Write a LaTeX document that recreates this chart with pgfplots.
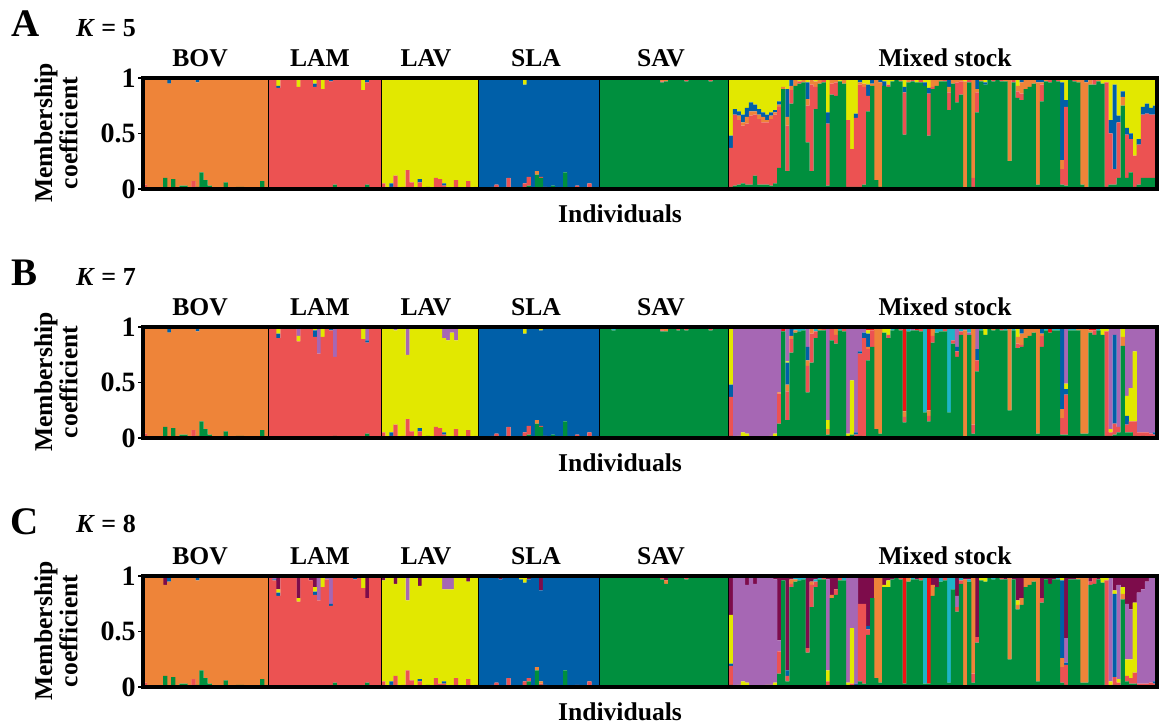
\documentclass[border=0pt]{standalone}
\usepackage{fontspec}
\setmainfont{Liberation Serif}
\usepackage{pgfplots}
\usepackage{pgfplotstable}
\pgfplotsset{compat=1.18}

% cluster colours
\definecolor{cG}{HTML}{008F3E}
\definecolor{cS}{HTML}{EC5252}
\definecolor{cO}{HTML}{EE8439}
\definecolor{cB}{HTML}{005FA8}
\definecolor{cY}{HTML}{E2E800}
\definecolor{cP}{HTML}{A667B4}
\definecolor{cC}{HTML}{1EB4C8}
\definecolor{cR}{HTML}{F01414}
\definecolor{cM}{HTML}{7D0C4B}

% ---------------- K = 5 : membership per individual ----------------
% BOV (31) | LAM (28) | LAV (24) | SLA (30) | SAV (32) | Mixed stock (106)
\pgfplotstableread{
G S O B Y
0 0.04 0.96 0 0
0 0 0.99 0 0.01
0.01 0 0.99 0 0
0 0 1 0 0
0 0.01 0.99 0 0
0.10 0 0.89 0 0.01
0 0 0.95 0.04 0.01
0.09 0 0.91 0 0
0 0 0.98 0 0.02
0.03 0 0.97 0 0
0.03 0 0.97 0 0
0 0.01 0.99 0 0
0 0.07 0.93 0 0
0.02 0 0.94 0.04 0
0.15 0 0.85 0 0
0.08 0 0.92 0 0
0.03 0 0.97 0 0
0 0 1 0 0
0.01 0 0.99 0 0
0 0 0.99 0.01 0
0.06 0 0.94 0 0
0 0 1 0 0
0.01 0 0.99 0 0
0.02 0 0.98 0 0
0.02 0 0.98 0 0
0 0 0.99 0 0.01
0 0 1 0 0
0 0.01 0.99 0 0
0 0 1 0 0
0.07 0 0.93 0 0
0 0 0.99 0.01 0
0 0.99 0 0 0.01
0 0.98 0 0.01 0.01
0 0.91 0 0.02 0.07
0 1 0 0 0
0 0.99 0.01 0 0
0 1 0 0 0
0 0.99 0 0 0.01
0 0.92 0 0 0.08
0 0.99 0 0.01 0
0 1 0 0 0
0.01 0.98 0 0 0.01
0 0.92 0 0.03 0.05
0.01 0.97 0 0 0.02
0 0.90 0 0 0.10
0 0.99 0 0 0.01
0 0.97 0 0.02 0.01
0.04 0.95 0 0 0.01
0 1 0 0 0
0 0.99 0.01 0 0
0 1 0 0 0
0 0.99 0 0 0.01
0 0.98 0 0.01 0.01
0 0.99 0 0 0.01
0 0.89 0 0 0.11
0.04 0.92 0 0.02 0.02
0 0.99 0 0 0.01
0 0.98 0 0 0.02
0 1 0 0 0
0 0.05 0 0 0.95
0 0.01 0 0 0.99
0 0.02 0 0.03 0.95
0 0.12 0 0 0.88
0 0.01 0 0 0.99
0.01 0.01 0 0 0.98
0 0.17 0 0 0.83
0 0.06 0 0 0.94
0 0.01 0 0 0.99
0 0.06 0 0.03 0.91
0 0 0 0 1
0.02 0 0 0 0.98
0 0.01 0 0 0.99
0 0.10 0 0 0.90
0 0.09 0 0 0.91
0 0.03 0 0.02 0.95
0 0.01 0 0 0.99
0 0 0 0 1
0 0.08 0 0 0.92
0.01 0 0 0 0.99
0 0.01 0 0 0.99
0 0.07 0 0 0.93
0 0.01 0 0 0.99
0 0.02 0 0 0.98
0 0.01 0 0.99 0
0 0 0 0.99 0.01
0 0.01 0 0.99 0
0 0.02 0 0.98 0
0 0.04 0 0.96 0
0 0 0 1 0
0 0.01 0 0.98 0.01
0 0.10 0 0.90 0
0 0.01 0 0.99 0
0.01 0 0 0.99 0
0 0.01 0 0.97 0.02
0 0.05 0 0.89 0.06
0.03 0.08 0 0.89 0
0 0.01 0 0.99 0
0.13 0 0.03 0.84 0
0.10 0.01 0 0.88 0.01
0 0.02 0 0.96 0.02
0 0 0 1 0
0.03 0 0 0.97 0
0 0 0.01 0.98 0.01
0 0.01 0 0.99 0
0.15 0 0 0.84 0.01
0 0 0 0.99 0.01
0 0.01 0 0.99 0
0 0.03 0 0.97 0
0 0 0 0.99 0.01
0 0.01 0 0.99 0
0 0.05 0 0.95 0
0 0 0 1 0
0 0.01 0 0.99 0
0.99 0 0.01 0 0
1 0 0 0 0
0.99 0.01 0 0 0
1 0 0 0 0
0.99 0 0 0 0.01
1 0 0 0 0
0.99 0.01 0 0 0
1 0 0 0 0
0.99 0 0.01 0 0
1 0 0 0 0
1 0 0 0 0
0.99 0 0 0.01 0
1 0 0 0 0
0.99 0.01 0 0 0
1 0 0 0 0
0.96 0.01 0.03 0 0
0.97 0 0.03 0 0
0.98 0.02 0 0 0
0.99 0.01 0 0 0
0.98 0.02 0 0 0
0.99 0 0.01 0 0
0.97 0.03 0 0 0
0.99 0.01 0 0 0
0.98 0.02 0 0 0
0.99 0 0.01 0 0
0.98 0.02 0 0 0
0.99 0.01 0 0 0
0.97 0.03 0 0 0
0.99 0.01 0 0 0
0.98 0.01 0.01 0 0
0.99 0.01 0 0 0
0.98 0.02 0 0 0
0.02 0.35 0 0.11 0.52
0.03 0.64 0 0.05 0.28
0.04 0.58 0.04 0.04 0.30
0.05 0.52 0.03 0.07 0.33
0.04 0.55 0.06 0.08 0.27
0.04 0.62 0.04 0.08 0.22
0.12 0.55 0.03 0.06 0.24
0.04 0.59 0.04 0.05 0.28
0.04 0.56 0.05 0.04 0.31
0.04 0.56 0.02 0.05 0.33
0.03 0.60 0.03 0.03 0.31
0.05 0.62 0.02 0.02 0.29
0.19 0.55 0.02 0.03 0.21
0.90 0 0.02 0 0.08
0.16 0.41 0.08 0.25 0.10
0.77 0.12 0.04 0.06 0.01
0.93 0 0.05 0.02 0
0.95 0.02 0 0 0.03
0.96 0 0.02 0 0.02
0.42 0.33 0.06 0.15 0.04
0.16 0.78 0.05 0 0.01
0.72 0.20 0.05 0 0.03
0.95 0 0.05 0 0
0.96 0.04 0 0 0
0.03 0.56 0 0.10 0.31
0.85 0.10 0.03 0.02 0
0.84 0.12 0.04 0 0
0.97 0 0 0 0.03
0.95 0 0.03 0.02 0
0.02 0.60 0 0 0.38
0.02 0.34 0 0 0.64
0.02 0.62 0 0.04 0.32
0.02 0.92 0.02 0.04 0
0.04 0.88 0.03 0 0.05
0.70 0.14 0 0.10 0.06
0.93 0 0.02 0.05 0
0.08 0 0.92 0 0
0.02 0 0.94 0.04 0
0.93 0 0 0.04 0.03
0.92 0.02 0 0 0.06
0.97 0 0 0 0.03
0.98 0.01 0.01 0 0
0.97 0 0.02 0 0.01
0.49 0.38 0 0.05 0.08
0.96 0 0.02 0 0.02
0.97 0.02 0 0 0.01
0.96 0 0 0 0.04
0.96 0.02 0 0.02 0
0.93 0 0 0.03 0.04
0.48 0.38 0 0.05 0.09
0.90 0.02 0.08 0 0
0.93 0 0.05 0 0.02
0.97 0 0.02 0.01 0
0.97 0.03 0 0 0
0.71 0.16 0.05 0.08 0
0.95 0 0.03 0 0.02
0.78 0.18 0.04 0 0
0.85 0.12 0.03 0 0
0 0 0.97 0 0.03
0.96 0.02 0.02 0 0
0.02 0.08 0.88 0.02 0
0.69 0.18 0.03 0.10 0
0.97 0 0.03 0 0
0.94 0 0 0.02 0.04
0.98 0 0.02 0 0
0.97 0.03 0 0 0
0.98 0 0 0 0.02
0.97 0.01 0.02 0 0
0.97 0 0.03 0 0
0.25 0 0.73 0 0.02
0.96 0.02 0.02 0 0
0.82 0.06 0.05 0 0.07
0.80 0.06 0.10 0.03 0.01
0.90 0 0.10 0 0
0.92 0 0.08 0 0
0.95 0 0.05 0 0
0.04 0 0.92 0.04 0
0.79 0.15 0.02 0.04 0
0.97 0 0.02 0 0.01
0.96 0.04 0 0 0
0.98 0 0.02 0 0
0.97 0.01 0 0.02 0
0.04 0.14 0.08 0.70 0.04
0.03 0.71 0 0.06 0.20
0.98 0 0.02 0 0
0.97 0.03 0 0 0
0.96 0 0.04 0 0
0.04 0 0.96 0 0
0 0 0.96 0.02 0.02
0.94 0 0.06 0 0
0.94 0.06 0 0 0
0.97 0 0.02 0 0.01
0.95 0 0 0 0.05
0.02 0.94 0 0 0.04
0.04 0.46 0 0.12 0.38
0.04 0.14 0 0.76 0.06
0.10 0.50 0 0.06 0.34
0.75 0 0.08 0.05 0.12
0.10 0.39 0 0.06 0.45
0.15 0.30 0 0.05 0.50
0.02 0.28 0 0 0.70
0.04 0.36 0 0.05 0.55
0.10 0.57 0 0.07 0.26
0.10 0.58 0 0.09 0.23
0.10 0.57 0 0.06 0.27
0.10 0.57 0 0.08 0.25
}\kfive

% ---------------- K = 7 ----------------
\pgfplotstableread{
G S O B Y P C R
0 0.04 0.96 0 0 0 0 0
0 0 0.99 0 0.01 0 0 0
0.01 0 0.99 0 0 0 0 0
0 0 1 0 0 0 0 0
0 0.01 0.99 0 0 0 0 0
0.10 0 0.89 0 0.01 0 0 0
0 0 0.95 0.04 0.01 0 0 0
0.09 0 0.91 0 0 0 0 0
0 0 0.98 0 0.02 0 0 0
0.03 0 0.97 0 0 0 0 0
0.03 0 0.97 0 0 0 0 0
0 0.01 0.99 0 0 0 0 0
0 0.07 0.93 0 0 0 0 0
0.02 0 0.94 0.04 0 0 0 0
0.15 0 0.85 0 0 0 0 0
0.08 0 0.92 0 0 0 0 0
0.03 0 0.97 0 0 0 0 0
0 0 1 0 0 0 0 0
0.01 0 0.99 0 0 0 0 0
0 0 0.99 0.01 0 0 0 0
0.06 0 0.94 0 0 0 0 0
0 0 1 0 0 0 0 0
0.01 0 0.99 0 0 0 0 0
0.02 0 0.98 0 0 0 0 0
0.02 0 0.98 0 0 0 0 0
0 0 0.99 0 0.01 0 0 0
0 0 1 0 0 0 0 0
0 0.01 0.99 0 0 0 0 0
0 0 1 0 0 0 0 0
0.07 0 0.93 0 0 0 0 0
0 0 0.98 0.01 0 0 0 0.01
0 0.99 0 0 0.01 0 0 0
0 0.98 0 0.02 0 0 0 0
0 0.90 0 0.04 0.06 0 0 0
0 1 0 0 0 0 0 0
0 0.99 0.01 0 0 0 0 0
0 0.99 0 0 0 0 0 0.01
0 0.99 0 0 0.01 0 0 0
0 0.87 0 0 0.05 0.08 0 0
0 0.98 0 0.01 0 0 0.01 0
0 1 0 0 0 0 0 0
0.01 0.98 0 0 0.01 0 0 0
0 0.91 0 0.06 0.03 0 0 0
0.01 0.75 0 0 0 0.24 0 0
0 0.91 0 0 0.09 0 0 0
0 0.99 0 0 0 0 0 0.01
0 0.97 0 0.02 0 0.01 0 0
0.02 0.71 0 0 0 0.27 0 0
0 1 0 0 0 0 0 0
0 0.99 0.01 0 0 0 0 0
0 0.99 0 0 0 0.01 0 0
0 0.99 0 0 0.01 0 0 0
0 0.98 0 0.01 0 0.01 0 0
0 0.99 0 0 0 0 0 0.01
0 0.89 0 0 0.11 0 0 0
0.04 0.82 0 0.02 0 0.12 0 0
0 0.99 0 0 0.01 0 0 0
0 0.98 0 0 0 0.02 0 0
0 1 0 0 0 0 0 0
0 0.05 0 0 0.95 0 0 0
0 0.01 0 0 0.99 0 0 0
0 0.02 0 0.03 0.95 0 0 0
0 0.12 0 0 0.85 0.03 0 0
0 0.01 0 0 0.98 0.01 0 0
0.01 0.01 0 0 0.98 0 0 0
0 0.17 0 0 0.58 0.25 0 0
0 0.06 0 0 0.93 0.01 0 0
0 0.01 0 0 0.99 0 0 0
0 0.06 0 0.03 0.89 0.02 0 0
0 0 0 0 0.99 0.01 0 0
0.02 0 0 0 0.98 0 0 0
0 0.01 0 0 0.99 0 0 0
0 0.10 0 0 0.90 0 0 0
0 0.09 0 0 0.90 0.01 0 0
0 0.03 0 0.02 0.85 0.10 0 0
0 0.01 0 0 0.87 0.12 0 0
0 0 0 0 0.95 0.05 0 0
0 0.08 0 0 0.80 0.12 0 0
0.01 0 0 0 0.99 0 0 0
0 0.01 0 0 0.98 0.01 0 0
0 0.07 0 0 0.93 0 0 0
0 0.01 0 0 0.99 0 0 0
0 0.02 0 0 0.96 0.02 0 0
0 0.01 0 0.99 0 0 0 0
0 0 0 0.99 0.01 0 0 0
0 0.01 0 0.98 0 0 0 0.01
0 0.02 0 0.98 0 0 0 0
0 0.04 0 0.96 0 0 0 0
0 0 0 0.98 0 0 0 0.02
0 0.01 0 0.98 0.01 0 0 0
0 0.10 0 0.90 0 0 0 0
0 0.01 0 0.98 0 0 0 0.01
0.01 0 0 0.99 0 0 0 0
0 0.01 0 0.97 0.02 0 0 0
0 0.05 0 0.89 0.06 0 0 0
0.03 0.08 0 0.88 0 0 0 0.01
0 0.01 0 0.99 0 0 0 0
0.13 0 0.03 0.84 0 0 0 0
0.10 0.01 0 0.86 0.01 0 0 0.02
0 0.02 0 0.96 0.02 0 0 0
0 0 0 0.99 0 0 0 0.01
0.03 0 0 0.97 0 0 0 0
0 0 0.01 0.98 0.01 0 0 0
0 0.01 0 0.99 0 0 0 0
0.15 0 0 0.84 0.01 0 0 0
0 0 0 0.99 0.01 0 0 0
0 0.01 0 0.98 0 0 0 0.01
0 0.03 0 0.97 0 0 0 0
0 0 0 0.99 0.01 0 0 0
0 0.01 0 0.99 0 0 0 0
0 0.05 0 0.95 0 0 0 0
0 0 0 1 0 0 0 0
0 0.01 0 0.98 0 0 0 0.01
0.99 0 0.01 0 0 0 0 0
0.98 0 0 0 0 0 0.02 0
0.98 0.01 0 0 0 0 0.01 0
0.97 0 0 0 0 0 0.03 0
0.98 0 0 0 0 0 0.02 0
0.98 0 0 0 0 0 0.02 0
0.98 0.01 0 0 0 0 0.01 0
0.99 0 0 0 0 0 0 0.01
0.98 0 0.01 0 0 0 0.01 0
0.99 0 0 0 0 0 0 0.01
1 0 0 0 0 0 0 0
0.99 0 0 0.01 0 0 0 0
0.99 0 0 0 0 0 0 0.01
0.99 0.01 0 0 0 0 0 0
0.99 0 0 0 0 0 0 0.01
0.96 0.01 0.03 0 0 0 0 0
0.96 0 0.02 0 0 0 0 0.02
0.98 0.02 0 0 0 0 0 0
0.99 0.01 0 0 0 0 0 0
0.97 0.02 0 0 0 0 0 0.01
0.99 0 0.01 0 0 0 0 0
0.97 0.03 0 0 0 0 0 0
0.98 0.01 0 0 0 0 0 0.01
0.98 0.02 0 0 0 0 0 0
0.99 0 0.01 0 0 0 0 0
0.98 0.02 0 0 0 0 0 0
0.99 0.01 0 0 0 0 0 0
0.97 0.02 0 0 0 0 0 0.01
0.99 0.01 0 0 0 0 0 0
0.98 0.01 0.01 0 0 0 0 0
0.99 0.01 0 0 0 0 0 0
0.98 0.02 0 0 0 0 0 0
0.02 0.35 0 0.11 0.52 0 0 0
0 0 0 0 0.01 0.97 0 0.02
0 0 0 0 0.02 0.97 0 0.01
0 0 0 0 0.05 0.94 0 0.01
0 0 0 0 0.04 0.95 0.01 0
0 0 0 0 0.01 0.98 0 0.01
0 0 0 0 0 0.99 0 0.01
0 0 0 0 0.01 0.98 0.01 0
0 0 0 0 0.01 0.99 0 0
0 0 0 0 0.01 0.98 0 0.01
0 0 0 0 0.02 0.97 0 0.01
0.01 0 0 0 0.03 0.95 0 0.01
0.13 0.27 0.01 0 0 0.57 0 0.02
0.96 0 0 0 0 0 0 0.04
0.16 0.26 0.06 0.20 0.01 0.29 0 0.02
0.77 0.12 0.03 0.06 0 0 0 0.02
0.95 0 0.02 0 0 0 0.03 0
0.96 0 0 0 0 0 0.04 0
0.97 0 0 0 0 0 0.03 0
0.41 0.24 0.05 0.12 0 0.18 0 0
0.68 0.26 0.04 0 0 0.02 0 0
0.90 0.06 0 0 0 0 0.02 0.02
0.97 0 0.01 0 0 0 0.02 0
0.97 0.02 0 0 0 0 0.01 0
0.03 0 0.05 0 0.08 0.84 0 0
0.88 0.10 0 0 0 0 0 0.02
0.85 0.08 0.05 0.02 0 0 0 0
0.97 0 0 0 0 0 0.03 0
0.96 0.02 0 0 0 0 0.02 0
0.02 0 0 0 0.02 0.96 0 0
0.03 0 0 0 0.49 0.48 0 0
0 0.03 0 0.02 0 0.95 0 0
0.02 0.74 0 0.02 0 0.22 0 0
0 0.90 0 0.05 0 0.05 0 0
0.70 0.10 0.02 0.12 0.03 0 0 0.03
0.82 0.15 0 0 0 0 0 0.03
0.08 0 0.92 0 0 0 0 0
0.04 0 0.94 0 0 0 0.02 0
0.95 0 0 0 0.03 0 0 0.02
0.90 0.03 0 0 0.05 0 0 0.02
0.97 0 0 0 0 0 0.03 0
0.98 0 0 0 0 0 0.02 0
0.97 0.01 0 0 0 0 0.02 0
0.14 0.05 0.05 0 0 0 0 0.76
0.96 0 0 0 0 0 0.04 0
0.97 0 0 0 0 0.01 0.02 0
0.97 0 0 0 0 0 0 0.03
0.96 0.02 0 0 0 0 0.02 0
0.23 0 0 0 0 0 0.77 0
0.15 0.05 0.05 0 0 0 0 0.75
0.86 0.06 0.06 0 0 0 0 0.02
0.95 0 0 0 0 0 0.05 0
0.96 0 0 0 0 0 0.04 0
0.96 0.02 0 0 0 0 0.02 0
0.23 0 0 0 0 0 0.77 0
0.85 0.03 0 0 0 0 0.12 0
0.73 0.05 0 0.04 0 0.18 0 0
0.93 0.03 0 0 0 0 0.04 0
0 0 0.97 0 0 0.03 0 0
0.93 0 0 0 0 0.02 0.05 0
0.04 0.08 0.88 0 0 0 0 0
0.60 0.10 0 0.10 0 0.20 0 0
0.97 0 0 0 0 0 0.03 0
0.93 0 0 0 0.05 0 0.02 0
0.98 0 0 0 0 0 0.02 0
0.97 0 0.01 0 0 0 0.02 0
0.98 0 0 0 0 0 0.02 0
0.97 0.01 0 0 0 0 0 0.02
0.97 0 0 0 0 0 0.03 0
0.25 0 0.73 0 0 0 0.02 0
0.97 0 0 0 0 0 0.03 0
0.81 0.04 0.06 0 0.09 0 0 0
0.82 0.02 0.10 0.06 0 0 0 0
0.90 0 0.10 0 0 0 0 0
0.92 0 0.08 0 0 0 0 0
0.95 0 0.05 0 0 0 0 0
0.04 0 0.94 0 0 0 0.02 0
0.82 0.10 0.02 0.06 0 0 0 0
0.97 0 0 0 0 0 0.03 0
0.95 0 0 0 0 0 0 0.05
0.97 0 0 0 0 0 0.02 0.01
0.97 0 0 0 0 0 0.03 0
0.03 0.15 0.08 0.72 0 0 0.02 0
0.03 0.36 0 0.05 0.05 0.51 0 0
0.97 0 0 0 0 0 0.03 0
0.97 0 0 0 0 0 0.02 0.01
0.97 0 0.01 0 0 0 0.02 0
0.04 0 0.96 0 0 0 0 0
0.04 0 0.96 0 0 0 0 0
0.95 0 0.02 0 0 0 0 0.03
0.93 0.04 0 0 0 0 0 0.03
0.97 0 0 0 0 0 0.03 0
0.93 0 0 0 0.05 0 0.02 0
0.02 0.94 0 0 0.04 0 0 0
0.02 0.03 0 0 0.03 0.92 0 0
0.03 0.10 0 0.80 0 0.05 0.02 0
0.05 0.05 0 0 0 0.90 0 0
0.83 0 0.08 0 0.09 0 0 0
0.05 0.07 0 0.08 0.18 0.62 0 0
0.05 0.10 0 0 0.30 0.55 0 0
0.02 0.13 0 0 0.63 0.22 0 0
0 0.05 0 0 0 0.95 0 0
0.02 0.03 0 0 0 0.95 0 0
0 0.05 0 0 0 0.95 0 0
0 0.04 0 0 0 0.96 0 0
0 0.03 0 0.02 0 0.95 0 0
}\kseven

% ---------------- K = 8 ----------------
\pgfplotstableread{
G S O B Y P C R M
0 0.04 0.96 0 0 0 0 0 0
0 0 0.99 0 0 0 0 0 0.01
0.01 0 0.99 0 0 0 0 0 0
0 0 1 0 0 0 0 0 0
0 0.01 0.98 0 0 0 0 0 0.01
0.10 0 0.82 0 0 0 0 0 0.08
0 0 0.95 0.04 0 0 0 0 0.01
0.09 0 0.91 0 0 0 0 0 0
0 0 0.98 0 0.01 0 0 0 0.01
0.03 0 0.97 0 0 0 0 0 0
0.03 0 0.97 0 0 0 0 0 0
0 0.01 0.99 0 0 0 0 0 0
0 0.07 0.93 0 0 0 0 0 0
0.02 0 0.94 0.03 0 0 0 0 0.01
0.15 0 0.85 0 0 0 0 0 0
0.08 0 0.92 0 0 0 0 0 0
0.03 0 0.97 0 0 0 0 0 0
0 0 0.99 0 0 0 0 0 0.01
0.01 0 0.99 0 0 0 0 0 0
0 0 0.99 0.01 0 0 0 0 0
0.06 0 0.94 0 0 0 0 0 0
0 0 1 0 0 0 0 0 0
0.01 0 0.99 0 0 0 0 0 0
0.02 0 0.98 0 0 0 0 0 0
0.02 0 0.98 0 0 0 0 0 0
0 0 0.99 0 0 0 0 0 0.01
0 0 1 0 0 0 0 0 0
0 0.01 0.99 0 0 0 0 0 0
0 0 1 0 0 0 0 0 0
0.07 0 0.93 0 0 0 0 0 0
0 0 0.99 0.01 0 0 0 0 0
0 0.99 0 0 0 0 0 0 0.01
0 0.96 0 0.01 0 0.03 0 0 0
0 0.82 0 0.03 0.03 0 0 0 0.12
0 1 0 0 0 0 0 0 0
0 0.98 0.01 0 0 0 0 0 0.01
0 0.99 0 0 0 0 0 0 0.01
0 0.98 0 0 0 0.01 0 0 0.01
0 0.77 0 0 0.03 0 0 0 0.20
0 0.98 0 0 0 0.01 0 0 0.01
0 1 0 0 0 0 0 0 0
0.01 0.95 0 0 0 0 0 0 0.04
0 0.83 0 0.03 0.04 0 0 0 0.10
0.01 0.77 0 0 0 0.22 0 0 0
0 0.90 0 0 0.10 0 0 0 0
0 0.97 0 0 0 0.02 0 0 0.01
0 0.73 0 0.02 0 0.25 0 0 0
0.04 0.94 0 0 0 0 0 0 0.02
0 0.99 0 0 0 0 0 0 0.01
0 0.99 0.01 0 0 0 0 0 0
0 0.98 0 0 0 0 0 0 0.02
0 0.99 0 0 0.01 0 0 0 0
0 0.97 0 0.01 0 0 0 0 0.02
0 0.99 0 0 0 0 0 0 0.01
0 0.89 0 0 0.11 0 0 0 0
0.04 0.76 0 0 0 0 0 0 0.20
0 0.98 0 0 0 0 0 0 0.02
0 0.98 0 0 0 0.01 0 0 0.01
0 1 0 0 0 0 0 0 0
0 0.05 0 0 0.91 0 0 0 0.04
0 0.01 0 0 0.99 0 0 0 0
0 0.02 0 0.03 0.95 0 0 0 0
0 0.10 0 0 0.83 0 0 0 0.07
0 0.01 0 0 0.98 0.01 0 0 0
0.01 0.01 0 0 0.98 0 0 0 0
0 0.15 0 0 0.63 0.22 0 0 0
0 0.06 0 0 0.93 0.01 0 0 0
0 0.01 0 0 0.99 0 0 0 0
0 0.05 0 0.02 0.84 0 0 0 0.09
0 0 0 0 0.99 0.01 0 0 0
0.02 0 0 0 0.98 0 0 0 0
0 0.01 0 0 0.99 0 0 0 0
0 0.08 0 0 0.92 0 0 0 0
0 0.03 0 0 0.96 0 0 0 0.01
0 0.03 0 0.02 0.83 0.12 0 0 0
0 0.01 0 0 0.87 0.12 0 0 0
0 0 0 0 0.88 0.12 0 0 0
0 0.08 0 0 0.90 0.02 0 0 0
0.01 0 0 0 0.99 0 0 0 0
0 0.01 0 0 0.99 0 0 0 0
0 0.07 0 0 0.88 0 0 0 0.05
0 0.01 0 0 0.99 0 0 0 0
0 0.02 0 0 0.98 0 0 0 0
0 0.01 0 0.98 0 0 0 0 0.01
0 0 0 0.99 0.01 0 0 0 0
0 0.01 0 0.97 0 0 0 0 0.02
0 0.02 0 0.98 0 0 0 0 0
0 0.04 0 0.96 0 0 0 0 0
0 0 0 0.97 0 0 0 0 0.03
0 0.01 0 0.98 0.01 0 0 0 0
0 0.08 0 0.92 0 0 0 0 0
0 0.01 0 0.97 0 0 0 0 0.02
0.01 0 0 0.99 0 0 0 0 0
0 0.01 0 0.96 0.01 0 0 0 0.02
0 0.05 0 0.89 0.06 0 0 0 0
0.05 0.03 0 0.89 0 0 0 0 0.03
0 0.01 0 0.99 0 0 0 0 0
0.15 0 0.03 0.82 0 0 0 0 0
0.02 0.01 0.02 0.82 0 0 0 0 0.13
0 0.02 0 0.97 0 0 0 0 0.01
0 0 0 0.99 0 0 0 0 0.01
0.01 0 0 0.99 0 0 0 0 0
0 0 0.01 0.98 0.01 0 0 0 0
0 0.01 0 0.98 0 0 0 0 0.01
0.15 0 0 0.85 0 0 0 0 0
0 0 0 0.99 0 0 0 0 0.01
0 0.01 0 0.99 0 0 0 0 0
0 0.02 0 0.97 0 0 0 0 0.01
0 0 0 0.99 0 0 0 0 0.01
0 0.01 0 0.99 0 0 0 0 0
0 0.05 0 0.93 0 0 0 0 0.02
0 0 0 1 0 0 0 0 0
0 0.01 0 0.99 0 0 0 0 0
0.99 0 0.01 0 0 0 0 0 0
0.99 0 0 0 0 0 0.01 0 0
0.99 0.01 0 0 0 0 0 0 0
0.99 0 0 0 0 0 0 0 0.01
0.99 0 0 0 0 0 0 0 0.01
1 0 0 0 0 0 0 0 0
0.99 0.01 0 0 0 0 0 0 0
0.99 0 0 0 0 0 0 0 0.01
0.99 0 0.01 0 0 0 0 0 0
1 0 0 0 0 0 0 0 0
0.99 0 0 0 0 0 0 0 0.01
0.99 0 0 0.01 0 0 0 0 0
1 0 0 0 0 0 0 0 0
0.99 0.01 0 0 0 0 0 0 0
0.99 0 0 0 0 0 0 0 0.01
0.97 0.01 0.01 0 0 0 0 0 0.01
0.93 0 0.03 0 0 0 0 0 0.04
0.98 0.02 0 0 0 0 0 0 0
0.98 0.01 0 0 0 0 0 0 0.01
0.98 0.01 0 0 0 0 0 0.01 0
0.99 0 0.01 0 0 0 0 0 0
0.97 0.01 0 0 0 0 0 0.02 0
0.99 0.01 0 0 0 0 0 0 0
0.98 0.01 0 0 0 0 0 0 0.01
0.99 0 0.01 0 0 0 0 0 0
0.98 0.01 0 0 0 0 0 0 0.01
0.99 0.01 0 0 0 0 0 0 0
0.98 0.01 0 0 0 0 0 0 0.01
0.99 0.01 0 0 0 0 0 0 0
0.98 0.01 0.01 0 0 0 0 0 0
0.99 0.01 0 0 0 0 0 0 0
0.98 0.01 0 0 0 0 0 0 0.01
0.02 0.17 0 0.02 0.44 0 0 0 0.35
0 0 0 0 0.01 0.97 0 0 0.02
0 0 0 0 0.02 0.96 0 0 0.02
0 0 0 0 0.05 0.93 0 0 0.02
0 0 0 0 0.04 0.88 0 0 0.08
0 0 0 0 0.01 0.97 0 0 0.02
0 0 0 0 0 0.93 0 0 0.07
0 0 0 0 0.01 0.98 0 0 0.01
0 0 0 0 0.01 0.98 0 0 0.01
0 0 0 0 0.02 0.97 0 0 0.01
0 0 0 0 0.02 0.97 0 0 0.01
0.01 0 0 0 0.03 0.93 0 0 0.03
0.12 0.20 0 0 0 0.10 0 0 0.58
0.96 0 0 0 0 0 0 0 0.04
0.05 0.05 0 0.05 0 0 0 0 0.85
0.90 0.03 0.04 0 0 0 0 0 0.03
0.95 0 0.02 0 0 0 0.01 0 0.02
0.96 0 0 0 0 0 0.02 0 0.02
0.97 0 0 0 0 0 0.01 0 0.02
0.31 0.04 0 0 0 0 0 0 0.65
0.72 0.20 0.03 0 0 0 0 0 0.05
0.90 0.05 0 0 0 0 0.02 0 0.03
0.97 0 0 0 0 0 0.01 0 0.02
0.97 0.01 0 0 0 0 0 0 0.02
0 0.05 0 0 0.10 0.82 0 0 0.03
0.80 0 0.03 0 0 0 0 0 0.17
0.83 0.05 0 0 0 0 0 0 0.12
0.96 0.02 0 0 0 0 0 0 0.02
0.96 0 0 0 0 0 0.02 0 0.02
0.02 0 0 0 0.02 0.95 0 0 0.01
0 0.03 0 0 0.50 0.47 0 0 0
0 0.02 0 0.01 0 0.95 0 0 0.02
0.05 0.70 0 0 0 0 0 0 0.25
0.03 0.72 0 0 0 0 0 0 0.25
0.47 0.05 0 0.03 0 0 0 0 0.45
0.80 0 0 0 0 0 0 0 0.20
0.08 0 0.90 0 0 0 0 0 0.02
0.04 0 0.94 0 0 0 0 0 0.02
0.90 0 0 0 0.02 0 0 0 0.08
0.90 0 0 0 0.06 0 0 0 0.04
0.97 0 0 0 0 0 0 0 0.03
0.98 0 0 0 0 0 0 0 0.02
0.97 0.01 0 0 0 0 0 0 0.02
0.03 0 0 0 0 0 0 0.97 0
0.95 0 0.05 0 0 0 0 0 0
0.97 0 0 0 0 0 0.01 0 0.02
0.97 0 0 0 0 0 0 0 0.03
0.96 0.02 0 0 0 0 0 0 0.02
0.03 0 0 0 0 0 0.97 0 0
0.03 0 0 0 0 0 0 0.97 0
0.82 0 0.10 0 0 0 0 0 0.08
0.90 0 0 0 0 0 0 0 0.10
0.95 0 0 0 0 0 0.03 0 0.02
0.96 0.02 0 0 0 0 0 0 0.02
0.04 0 0 0 0 0 0.96 0 0
0.88 0 0 0 0 0 0.10 0 0.02
0.68 0.04 0 0 0 0.10 0 0 0.18
0.93 0.03 0 0 0 0 0.02 0 0.02
0 0 0.97 0 0 0 0 0 0.03
0.95 0 0 0 0 0 0.02 0 0.03
0.04 0.08 0.88 0 0 0 0 0 0
0.40 0.05 0 0 0 0 0 0 0.55
0.96 0 0 0 0.03 0 0 0 0.01
0.95 0 0 0 0.04 0 0 0 0.01
0.98 0 0 0 0 0 0 0 0.02
0.97 0 0 0 0 0 0.01 0 0.02
0.98 0 0 0 0 0 0 0 0.02
0.97 0.01 0 0 0 0 0 0 0.02
0.97 0 0 0 0 0 0 0 0.03
0.25 0 0.75 0 0 0 0 0 0
0.97 0 0 0 0 0 0 0 0.03
0.70 0 0.04 0 0.04 0 0 0 0.22
0.74 0 0.06 0 0 0 0 0 0.20
0.90 0 0.10 0 0 0 0 0 0
0.92 0 0.08 0 0 0 0 0 0
0.95 0 0.03 0 0 0 0 0 0.02
0.05 0 0.95 0 0 0 0 0 0
0.76 0.04 0 0 0 0 0 0 0.20
0.97 0 0 0 0 0 0 0 0.03
0.93 0 0 0 0 0 0 0 0.07
0.97 0 0 0 0 0 0 0 0.03
0.97 0 0 0 0 0 0.01 0 0.02
0.04 0.14 0.08 0.70 0.02 0 0 0 0.02
0.02 0.18 0 0.02 0 0.22 0 0 0.56
0.97 0 0 0 0 0 0 0 0.03
0.97 0 0 0 0 0 0 0 0.03
0.97 0 0.01 0 0 0 0 0 0.02
0.04 0 0.96 0 0 0 0 0 0
0.04 0 0.96 0 0 0 0 0 0
0.92 0.03 0 0 0 0 0 0 0.05
0.93 0.05 0 0 0 0 0 0 0.02
0.97 0 0 0 0 0 0 0 0.03
0.94 0 0 0 0.04 0 0 0 0.02
0 0.96 0 0 0.02 0 0 0 0.02
0 0.02 0 0 0.03 0.93 0 0 0.02
0.02 0.07 0 0.75 0.03 0 0 0 0.13
0 0.04 0 0 0.03 0.85 0 0 0.08
0.79 0 0.05 0 0.06 0 0 0 0.10
0.05 0.05 0 0 0.15 0.50 0 0 0.25
0.03 0.05 0 0 0.17 0.45 0 0 0.30
0.03 0.10 0 0 0.63 0 0 0 0.24
0 0.03 0 0 0 0.82 0 0 0.15
0 0.03 0 0 0 0.85 0 0 0.12
0 0.03 0 0 0 0.92 0 0 0.05
0 0.04 0 0 0 0.96 0 0 0
0 0.03 0 0.02 0 0.95 0 0 0
}\keight

\pgfplotsset{
  structure/.style={
    ybar stacked, bar width=1.04,
    scale only axis, width=507pt, height=55.5pt, anchor=south west,
    xmin=-0.5, xmax=250.5, ymin=0, ymax=1,
    xtick=\empty, ytick={0,0.5,1}, yticklabels={0,0.5,1}, ytick pos=left,
    tick align=outside, major tick length=2.5pt,
    ytick style={black, line width=0.8pt},
    yticklabel style={font=\fontsize{14}{14}\selectfont\bfseries, inner sep=1pt},
    axis on top, axis line style={black, line width=1.6pt},
    extra x ticks={30.5,58.5,82.5,112.5,144.5}, extra x tick labels={},
    extra x tick style={grid=major, major tick length=0pt,
      major grid style={black, line width=0.5pt}},
    every axis plot/.append style={draw=none},
  },
}
\tikzset{lab/.style={font=\fontsize{12.8}{13}\selectfont\bfseries}}

% population names, axis title and y title of a panel whose axis starts at height #1
\newcommand\poplabels[1]{%
  \foreach \xx/\lab in {100/BOV,160/LAM,213/LAV,268/SLA,330.5/SAV,472.5/Mixed stock}
    {\node[lab] at (\xx pt,#1pt+65.5pt) {\lab};}%
  \node[lab] at (310pt,#1pt-12.5pt) {Individuals};%
  \node[rotate=90, align=center, font=\fontsize{12.8}{11.5}\selectfont\bfseries]
    at (28pt,#1pt+28pt) {Membership\\coefficient};%
}

\begin{document}
\begin{tikzpicture}
\path[use as bounding box] (0,0) rectangle (579.5pt,362pt);

% ---- A : K = 5
\begin{axis}[structure, at={(71.5pt,267.5pt)}]
\addplot[fill=cG] table[x expr=\coordindex, y=G]{\kfive};
\addplot[fill=cS] table[x expr=\coordindex, y=S]{\kfive};
\addplot[fill=cO] table[x expr=\coordindex, y=O]{\kfive};
\addplot[fill=cB] table[x expr=\coordindex, y=B]{\kfive};
\addplot[fill=cY] table[x expr=\coordindex, y=Y]{\kfive};
\end{axis}
\node[font=\fontsize{19.5}{20}\selectfont\bfseries] at (13pt,350pt) {A};
\node[font=\fontsize{13}{13}\selectfont\bfseries] at (53pt,348pt) {\textit{K} = 5};
\poplabels{267.5}

% ---- B : K = 7
\begin{axis}[structure, at={(71.5pt,143pt)}]
\addplot[fill=cG] table[x expr=\coordindex, y=G]{\kseven};
\addplot[fill=cS] table[x expr=\coordindex, y=S]{\kseven};
\addplot[fill=cO] table[x expr=\coordindex, y=O]{\kseven};
\addplot[fill=cB] table[x expr=\coordindex, y=B]{\kseven};
\addplot[fill=cY] table[x expr=\coordindex, y=Y]{\kseven};
\addplot[fill=cP] table[x expr=\coordindex, y=P]{\kseven};
\addplot[fill=cC] table[x expr=\coordindex, y=C]{\kseven};
\addplot[fill=cR] table[x expr=\coordindex, y=R]{\kseven};
\end{axis}
\node[font=\fontsize{19.5}{20}\selectfont\bfseries] at (12.5pt,225.5pt) {B};
\node[font=\fontsize{13}{13}\selectfont\bfseries] at (53pt,223.5pt) {\textit{K} = 7};
\poplabels{143}

% ---- C : K = 8
\begin{axis}[structure, at={(71.5pt,18.5pt)}]
\addplot[fill=cG] table[x expr=\coordindex, y=G]{\keight};
\addplot[fill=cS] table[x expr=\coordindex, y=S]{\keight};
\addplot[fill=cO] table[x expr=\coordindex, y=O]{\keight};
\addplot[fill=cB] table[x expr=\coordindex, y=B]{\keight};
\addplot[fill=cY] table[x expr=\coordindex, y=Y]{\keight};
\addplot[fill=cP] table[x expr=\coordindex, y=P]{\keight};
\addplot[fill=cC] table[x expr=\coordindex, y=C]{\keight};
\addplot[fill=cR] table[x expr=\coordindex, y=R]{\keight};
\addplot[fill=cM] table[x expr=\coordindex, y=M]{\keight};
\end{axis}
\node[font=\fontsize{19.5}{20}\selectfont\bfseries] at (12.5pt,101pt) {C};
\node[font=\fontsize{13}{13}\selectfont\bfseries] at (53pt,100pt) {\textit{K} = 8};
\poplabels{18.5}
\end{tikzpicture}
\end{document}
